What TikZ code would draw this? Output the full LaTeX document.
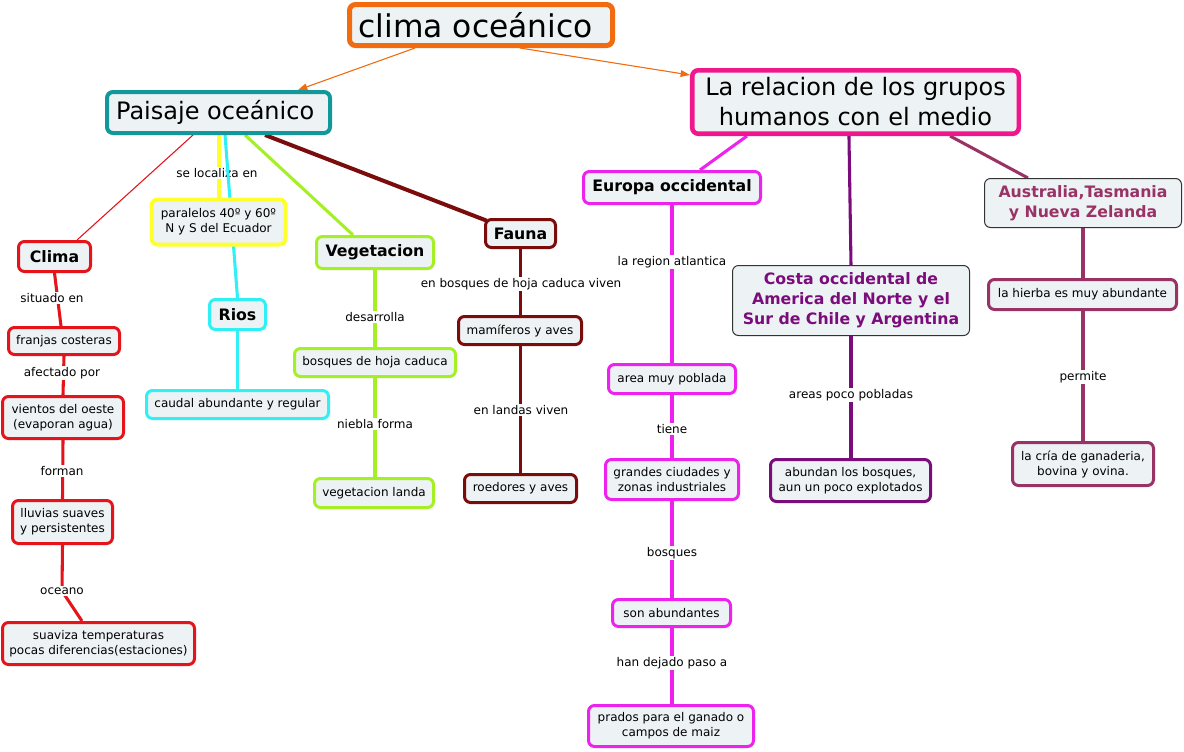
\documentclass[tikz,border=0pt]{standalone}
\usepackage{fontspec}
\setmainfont{DejaVu Sans}
\usetikzlibrary{arrows.meta}
\definecolor{boxfill}{HTML}{EDF2F4}
\definecolor{corange}{HTML}{F26B0F}
\definecolor{cteal}{HTML}{12979A}
\definecolor{cpink}{HTML}{F0168C}
\definecolor{cred}{HTML}{E5141B}
\definecolor{cyellow}{HTML}{FFFF30}
\definecolor{ccyan}{HTML}{30F0F5}
\definecolor{clime}{HTML}{A5F025}
\definecolor{cdarkred}{HTML}{7A0C0C}
\definecolor{cmagenta}{HTML}{EE22EE}
\definecolor{cpurple}{HTML}{7B0C7B}
\definecolor{cplum}{HTML}{993366}
\definecolor{cgray}{HTML}{333333}
\pgfdeclarelayer{bgfill}\pgfdeclarelayer{bg}\pgfdeclarelayer{lbl}\pgfdeclarelayer{mid}
\pgfsetlayers{bgfill,bg,lbl,mid,main}
\begin{document}
\begin{tikzpicture}[x=0.75pt,y=-0.75pt,
  box/.style={draw, rounded corners=4.5pt, fill=boxfill, align=center, inner sep=0pt,
    line width=2.25pt, font=\fontsize{9}{11.25}\selectfont},
  bbox/.style={box, font=\fontsize{11.8}{15}\selectfont\bfseries},
  bigbox/.style={box, line width=3pt, font=\fontsize{18}{22.5}\selectfont},
  thinbox/.style={box, draw=cgray, line width=0.75pt, font=\fontsize{11.8}{15}\selectfont\bfseries},
  lbl/.style={fill=white, inner sep=1.2pt, font=\fontsize{9}{11}\selectfont},
  conn/.style={line width=2.3pt},
  arr/.style={draw=corange, line width=0.8pt, -{Triangle[length=7pt,width=5pt]}, fill=corange},
]
\begin{pgfonlayer}{bgfill}
\fill[white] (0,0) rectangle (1184,751);
\end{pgfonlayer}
\useasboundingbox (0,0) rectangle (1184,751);

% ---- main nodes
\node[box, draw=corange, line width=3.75pt, minimum width=197.25pt, minimum height=30.75pt,
  font=\fontsize{23.5}{27}\selectfont] (title) at (481,25) {clima oceánico\kern8pt};
\node[bigbox, draw=cteal, minimum width=167.25pt, minimum height=30.75pt] (pais) at (218.5,112.5) {Paisaje oceánico\kern5pt};
\node[bigbox, draw=cpink, line width=3.4pt, minimum width=244.9pt, minimum height=47.6pt] (rel) at (855.5,102) {La relacion de los grupos\\humanos con el medio};

% ---- left branch
\node[bbox, draw=cred, minimum width=54pt, minimum height=22.5pt] (clima) at (54.5,256.5) {Clima};
\node[box, draw=cred, minimum width=83.25pt, minimum height=20.25pt] (franjas) at (64,341) {franjas costeras};
\node[box, draw=cred, minimum width=90.75pt, minimum height=31.5pt] (vientos) at (63,417.5) {vientos del oeste\\(evaporan agua)};
\node[box, draw=cred, minimum width=75pt, minimum height=32.25pt] (lluvias) at (62.5,522) {lluvias suaves\\y persistentes};
\node[box, draw=cred, minimum width=144pt, minimum height=31.5pt] (suaviza) at (98.5,643.5) {suaviza temperaturas\\pocas diferencias(estaciones)};

\node[box, draw=cyellow, line width=3pt, minimum width=100.5pt, minimum height=33.75pt] (paral) at (218.5,222) {paralelos 40º y 60º\\N y S del Ecuador};
\node[bbox, draw=ccyan, minimum width=42pt, minimum height=22.5pt] (rios) at (237.5,314.5) {Rios};
\node[box, draw=ccyan, minimum width=136.5pt, minimum height=21pt] (caudal) at (237.5,404.5) {caudal abundante y regular};

\node[bbox, draw=clime, minimum width=87.75pt, minimum height=24pt] (veg) at (375,252.5) {Vegetacion};
\node[box, draw=clime, minimum width=120.75pt, minimum height=21pt] (bosq) at (375,362.5) {bosques de hoja caduca};
\node[box, draw=clime, minimum width=89.25pt, minimum height=21.75pt] (landa) at (374,493) {vegetacion landa};

\node[bbox, draw=cdarkred, minimum width=52.5pt, minimum height=21pt] (fauna) at (520.5,233.5) {Fauna};
\node[box, draw=cdarkred, minimum width=92.25pt, minimum height=21pt] (mami) at (520,330.5) {mamíferos y aves};
\node[box, draw=cdarkred, minimum width=84pt, minimum height=21pt] (roed) at (520.5,488.5) {roedores y aves};

% ---- right branch
\node[bbox, draw=cmagenta, minimum width=132.75pt, minimum height=24pt] (europa) at (672,187.5) {Europa occidental};
\node[box, draw=cmagenta, minimum width=95.25pt, minimum height=21.75pt] (area) at (672,379) {area muy poblada};
\node[box, draw=cmagenta, minimum width=99.75pt, minimum height=30pt] (grandes) at (672,479.5) {grandes ciudades y\\zonas industriales};
\node[box, draw=cmagenta, minimum width=88.5pt, minimum height=20.25pt] (son) at (671.5,613) {son abundantes};
\node[box, draw=cmagenta, minimum width=123.75pt, minimum height=30.75pt] (prados) at (671,726) {prados para el ganado o\\campos de maiz};

\node[thinbox, text=cpurple, minimum width=177.75pt, minimum height=52.5pt] (costa) at (851,300.5) {Costa occidental de\\America del Norte y el\\Sur de Chile y Argentina};
\node[box, draw=cpurple, minimum width=120pt, minimum height=31.5pt] (abundan) at (850.5,480.5) {abundan los bosques,\\aun un poco explotados};

\node[thinbox, text=cplum, minimum width=147.75pt, minimum height=36.75pt] (austr) at (1083,203) {Australia,Tasmania\\y Nueva Zelanda};
\node[box, draw=cplum, minimum width=141pt, minimum height=22.5pt] (hierba) at (1082.5,294.5) {la hierba es muy abundante};
\node[box, draw=cplum, minimum width=105.75pt, minimum height=32.25pt] (cria) at (1083,464) {la cría de ganaderia,\\bovina y ovina.};

% ---- link labels
\begin{pgfonlayer}{lbl}
\node[lbl] (lsel) at (217,173) {se localiza en};
\node[lbl] (lsit) at (52,298) {situado en};
\node[lbl] (lafe) at (62,373) {afectado por};
\node[lbl] (lfor) at (62,471) {forman};
\node[lbl] (loce) at (62,591) {oceano};
\node[lbl] (ldes) at (375,317) {desarrolla};
\node[lbl] (lnie) at (375,424) {niebla forma};
\node[lbl] (lenb) at (521,284) {en bosques de hoja caduca viven};
\node[lbl] (lenl) at (521,410) {en landas viven};
\node[lbl] (lreg) at (672,262) {la region atlantica};
\node[lbl] (ltie) at (672,429) {tiene};
\node[lbl] (lbos) at (672,553) {bosques};
\node[lbl] (lhan) at (672,663) {han dejado paso a};
\node[lbl] (lare) at (851,395) {areas poco pobladas};
\node[lbl] (lper) at (1083,377) {permite};
\end{pgfonlayer}

% ---- connectors
\begin{pgfonlayer}{bg}
\draw[arr] ([xshift=-49.5pt]title.south) -- ([xshift=59.6pt]pais.north);
\draw[arr] ([xshift=29.25pt]title.south) -- ([yshift=20.25pt]rel.west);

\draw[draw=cred, line width=0.8pt] ([xshift=-19.1pt]pais.south) -- ([xshift=16.9pt]clima.north);
\draw[conn, draw=cyellow, line width=3pt] (pais.south) -- (paral.north);
\draw[conn, draw=clime] ([xshift=19.9pt]pais.south) -- ([xshift=-16.5pt]veg.north);
\draw[conn, draw=cdarkred, line width=3pt] ([xshift=34.9pt]pais.south) -- ([xshift=2pt,yshift=-2pt]fauna.north west);

\draw[conn, draw=cred] (clima.south) -- ([xshift=-2.25pt]franjas.north);
\draw[conn, draw=cred] (franjas.south) -- (vientos.north);
\draw[conn, draw=cred] (vientos.south) -- (lluvias.north);
\draw[conn, draw=cred] (lluvias.south) -- (loce.center) -- ([xshift=-12.4pt]suaviza.north);

\draw[conn, draw=ccyan] (rios.south) -- (caudal.north);
\draw[conn, draw=clime] (veg.south) -- (bosq.north);
\draw[conn, draw=clime] (bosq.south) -- (landa.north -| bosq.south);
\draw[conn, draw=cdarkred] (fauna.south) -- (mami.north -| fauna.south);
\draw[conn, draw=cdarkred] (mami.south -| fauna.south) -- (roed.north -| fauna.south);

\draw[conn, draw=cmagenta] ([xshift=-81.4pt]rel.south) -- ([xshift=21pt]europa.north);
\draw[conn, draw=cmagenta] (europa.south) -- (area.north);
\draw[conn, draw=cmagenta] (area.south) -- (grandes.north);
\draw[conn, draw=cmagenta] (grandes.south) -- (son.north -| grandes.south);
\draw[conn, draw=cmagenta] (son.south -| grandes.south) -- (prados.north -| grandes.south);

\draw[conn, draw=cpurple] ([xshift=-4.9pt]rel.south) -- (costa.north);
\draw[conn, draw=cpurple] (costa.south) -- (abundan.north -| costa.south);

\draw[conn, draw=cplum] ([xshift=70.9pt]rel.south) -- ([xshift=-41.25pt]austr.north);
\draw[conn, draw=cplum] (austr.south) -- (hierba.north -| austr.south);
\draw[conn, draw=cplum] (hierba.south -| austr.south) -- (cria.north -| austr.south);
\end{pgfonlayer}

\begin{pgfonlayer}{mid}
\draw[conn, draw=ccyan] ([xshift=4.9pt]pais.south) -- (rios.north);
\end{pgfonlayer}
\end{tikzpicture}
\end{document}
